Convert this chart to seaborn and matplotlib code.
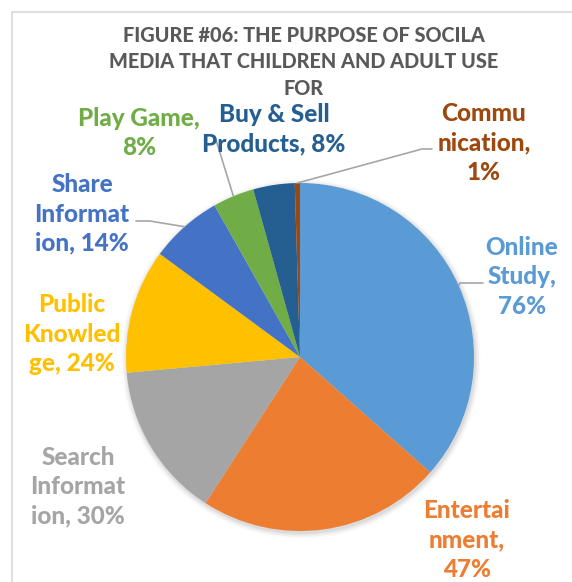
import matplotlib
matplotlib.use("Agg")
import matplotlib.pyplot as plt
import numpy as np
import seaborn as sns

# ---- data -------------------------------------------------------------
categories = ["Online Study", "Entertainment", "Search Information",
              "Public Knowledge", "Share Information", "Play Game",
              "Buy & Sell Products", "Communication"]
values = [76, 47, 30, 24, 14, 8, 8, 1]
# wrapped label text as shown on the chart, and the break before the value
label_names = ["Online\nStudy,", "Entertai\nnment,", "Search\nInformat\nion,",
               "Public\nKnowled\nge,", "Share\nInformat\nion,", "Play Game,",
               "Buy & Sell\nProducts,", "Commu\nnication,"]
value_breaks = ["\n", "\n", " ", " ", " ", "\n", " ", "\n"]
colors = ["#5B9BD5", "#ED7D31", "#A5A5A5", "#FFC000",
          "#4472C4", "#70AD47", "#255E91", "#9E480E"]
title = ("FIGURE #06: THE PURPOSE OF SOCILA\n"
         "MEDIA THAT CHILDREN AND ADULT USE\nFOR")

# ---- layout (pixel units, y measured from the top) --------------------
W, H = 572, 582
pie_center = (300, 357)
pie_radius = 174
label_xy = [(522, 277), (467, 540), (78, 487), (72, 334),
            (82, 214), (139, 133), (274, 129), (484, 143)]
# leader lines: (wedge index, elbow point, end point)
leaders = [(0, (460, 283), (483, 283)),
           (4, (150, 221), (136, 221)),
           (5, (216, 140), (216, 140)),
           (7, (422, 149), (432, 149))]

sns.set_theme(style="white")
plt.rcParams["font.family"] = ["Lato", "DejaVu Sans"]

fig = plt.figure(figsize=(W / 100, H / 100), dpi=100)
ax = fig.add_axes([0, 0, 1, 1])


def py(y):
    return H - y


# soft shadow under the pie
for i, a in enumerate([0.05, 0.04, 0.03, 0.02]):
    ax.add_patch(plt.Circle((pie_center[0] + 1, py(pie_center[1]) - 2),
                            pie_radius + 1 + i * 1.5, color="black",
                            alpha=a, lw=0, zorder=0))

wedges, _ = ax.pie(values, colors=colors, startangle=90, counterclock=False,
                   center=(pie_center[0], py(pie_center[1])),
                   radius=pie_radius, wedgeprops=dict(linewidth=0),
                   frame=True)
for w in wedges:
    w.set_zorder(2)

ax.set_xlim(0, W)
ax.set_ylim(0, H)
ax.set_aspect("auto")
ax.axis("off")

# chart frame
ax.plot([12, 12, W + 5], [-5, py(12), py(12)], color="#D9D9D9", lw=1.2,
        zorder=1, clip_on=False)

# title
ax.text(304, py(62), title, ha="center", va="center", fontsize=14.3,
        fontweight="black", color="#595959", linespacing=1.48)

# leader lines from wedge rims to labels
for idx, elbow, end in leaders:
    w = wedges[idx]
    ang = np.deg2rad((w.theta1 + w.theta2) / 2)
    sx = pie_center[0] + pie_radius * np.cos(ang)
    sy = py(pie_center[1]) + pie_radius * np.sin(ang)
    ax.plot([sx, elbow[0], end[0]], [sy, py(elbow[1]), py(end[1])],
            color="#A6A6A6", lw=1.2, zorder=3)

# data labels
for name, brk, v, c, (x, y) in zip(label_names, value_breaks, values,
                                   colors, label_xy):
    ax.text(x, py(y), f"{name}{brk}{v}%", ha="center", va="center",
            fontsize=17.5, fontweight="black", color=c, linespacing=1.32,
            zorder=5)

fig.savefig("out.png", dpi=100, facecolor="white")
